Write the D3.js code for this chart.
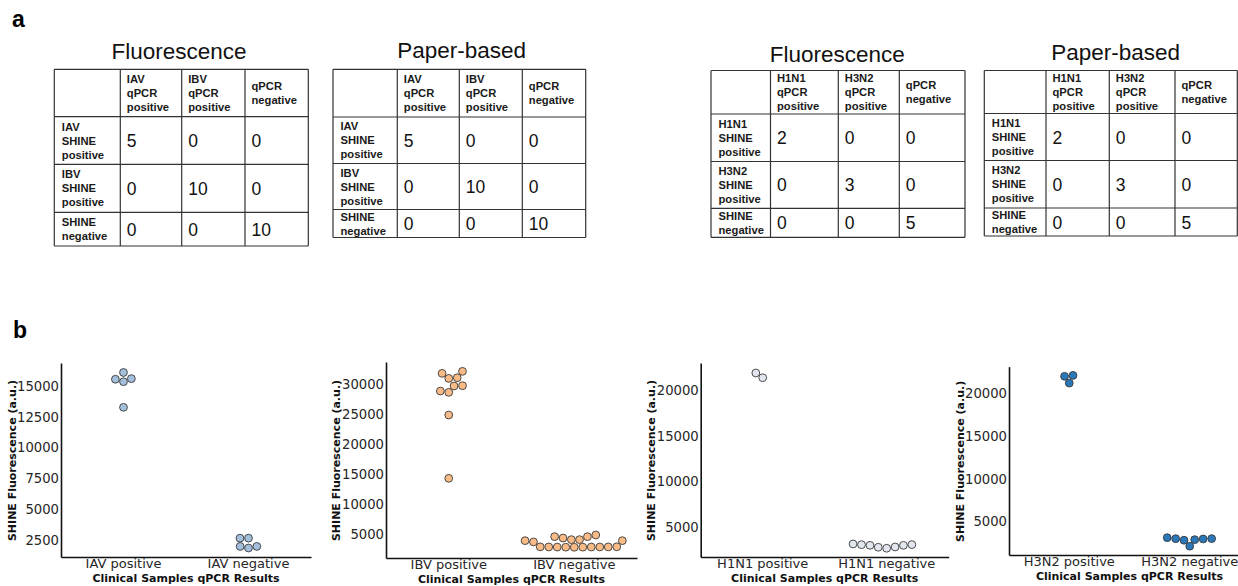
<!DOCTYPE html>
<html lang="en">
<head>
<meta charset="utf-8">
<title>SHINE clinical samples</title>
<style>
    body { margin: 0; background: #fff; }
    svg { display: block; }
</style>
</head>
<body>
<svg id="fig" width="1238" height="586"></svg>
<script src="https://d3js.org/d3.v7.min.js"></script>
<script>
// ---- table data (panel a) ----
const fluBColHeads = [["IAV", "qPCR", "positive"], ["IBV", "qPCR", "positive"], ["qPCR", "negative"]]
const fluBRowHeads = [["IAV", "SHINE", "positive"], ["IBV", "SHINE", "positive"], ["SHINE", "negative"]]
const fluBFluorCounts = [[5, 0, 0], [0, 10, 0], [0, 0, 10]]
const fluBPaperCounts = [[5, 0, 0], [0, 10, 0], [0, 0, 10]]

const subtypeColHeads = [["H1N1", "qPCR", "positive"], ["H3N2", "qPCR", "positive"], ["qPCR", "negative"]]
const subtypeRowHeads = [["H1N1", "SHINE", "positive"], ["H3N2", "SHINE", "positive"], ["SHINE", "negative"]]
const subtypeFluorCounts = [[2, 0, 0], [0, 3, 0], [0, 0, 5]]
const subtypePaperCounts = [[2, 0, 0], [0, 3, 0], [0, 0, 5]]

// ---- swarm data (panel b), SHINE fluorescence (a.u.) ----
const iavCats = ["IAV positive", "IAV negative"]
const iavPos = [13270, 15350, 15550, 15600, 16100]
const iavNeg = [1850, 1980, 1980, 2650, 2650]

const ibvCats = ["IBV positive", "IBV negative"]
const ibvPos = [14280, 24830, 28610, 28830, 29670, 29720, 30940, 31050, 31780, 32110]
const ibvNeg = [2790, 2800, 2810, 2820, 2830, 2830, 2840, 2850, 2860, 2870,
    3680, 3890, 3890, 4060, 4060, 4330, 4560, 4560, 4830]

const h1n1Cats = ["H1N1 positive", "H1N1 negative"]
const h1n1Pos = [21340, 21860]
const h1n1Neg = [2710, 2820, 2850, 3030, 3030, 3100, 3110, 3180]

const h3n2Cats = ["H3N2 positive", "H3N2 negative"]
const h3n2Pos = [21200, 21990, 22100]
const h3n2Neg = [2130, 2830, 2900, 2980, 3010, 3020, 3130]

const yTicksIAV = [2500, 5000, 7500, 10000, 12500, 15000]
const yTicksIBV = [5000, 10000, 15000, 20000, 25000, 30000]
const yTicksSub = [5000, 10000, 15000, 20000]

const svg = d3.select("#fig")
svg.append("rect").attr("width", 1238).attr("height", 586).attr("fill", "#fff")

// panel letters
svg.append("text").attr("x", 12).attr("y", 27).text("a")
    .attr("font-family", "Liberation Sans, Arial, sans-serif").attr("font-weight", "bold").attr("font-size", 23)
svg.append("text").attr("x", 13).attr("y", 338).text("b")
    .attr("font-family", "Liberation Sans, Arial, sans-serif").attr("font-weight", "bold").attr("font-size", 23)

// ---------- tables ----------
function drawTable(opt) {
    const g = svg.append("g")
    const xs = opt.xs, ys = opt.ys
    g.append("text")
        .attr("x", opt.titleX).attr("y", opt.titleY)
        .attr("text-anchor", "middle")
        .attr("font-family", "Liberation Sans, Arial, sans-serif")
        .attr("font-size", 22.5).attr("fill", "#111")
        .text(opt.title)

    // grid
    xs.forEach(x => g.append("line").attr("x1", x).attr("x2", x).attr("y1", ys[0]).attr("y2", ys[ys.length - 1]))
    ys.forEach(y => g.append("line").attr("x1", xs[0]).attr("x2", xs[xs.length - 1]).attr("y1", y).attr("y2", y))
    g.selectAll("line").attr("stroke", "#333").attr("stroke-width", 1.2)

    const lh = 14
    function block(lines, x, yTop, yBot) {
        const cy = (yTop + yBot) / 2
        const t = g.append("text")
            .attr("font-family", "Liberation Sans, Arial, sans-serif")
            .attr("font-weight", "bold").attr("font-size", 11.2).attr("fill", "#1a1a1a")
        lines.forEach((s, i) => {
            t.append("tspan").attr("x", x)
                .attr("y", cy + 4 + (i - (lines.length - 1) / 2) * lh)
                .text(s)
        })
    }
    opt.colHeads.forEach((c, j) => block(c, xs[j + 1] + 6.5, ys[0], ys[1]))
    opt.rowHeads.forEach((r, i) => block(r, xs[0] + 7.5, ys[i + 1], ys[i + 2]))
    opt.counts.forEach((row, i) => row.forEach((v, j) => {
        g.append("text")
            .attr("x", xs[j + 1] + 6.5)
            .attr("y", (ys[i + 1] + ys[i + 2]) / 2 + 6.5)
            .attr("font-family", "Liberation Sans, Arial, sans-serif")
            .attr("font-size", 17.5).attr("fill", "#111")
            .text(v)
    }))
}

drawTable({ title: "Fluorescence", titleX: 179, titleY: 59,
    xs: [54.3, 120.3, 181.7, 245, 308.3], ys: [69.3, 116.7, 164.3, 212.3, 246],
    colHeads: fluBColHeads, rowHeads: fluBRowHeads, counts: fluBFluorCounts })
drawTable({ title: "Paper-based", titleX: 461.7, titleY: 58,
    xs: [333, 397.3, 459.3, 522.3, 585.7], ys: [69.3, 117, 163.5, 209.5, 237.5],
    colHeads: fluBColHeads, rowHeads: fluBRowHeads, counts: fluBPaperCounts })
drawTable({ title: "Fluorescence", titleX: 837.3, titleY: 61.5,
    xs: [711, 770.5, 838.3, 899.3, 965], ys: [70.5, 114, 161.5, 208.3, 237.3],
    colHeads: subtypeColHeads, rowHeads: subtypeRowHeads, counts: subtypeFluorCounts })
drawTable({ title: "Paper-based", titleX: 1115.7, titleY: 60,
    xs: [984.3, 1046, 1109.3, 1175, 1237.3], ys: [70.5, 113.5, 160.5, 208, 236],
    colHeads: subtypeColHeads, rowHeads: subtypeRowHeads, counts: subtypePaperCounts })

// ---------- swarm plots ----------
// seaborn-style beeswarm on pixel y: points go in order of increasing value,
// each one at the candidate offset nearest the midline that doesn't overlap.
function beeswarm(pys, r) {
    const d = 2 * r
    const pts = pys.map(py => ({ u: -py })).sort((a, b) => a.u - b.u)
    const placed = []
    pts.forEach(p => {
        let nb = []
        for (let k = placed.length - 1; k >= 0; k--) {
            if (p.u - placed[k].u < d) nb.push(placed[k]); else break
        }
        nb = nb.reverse()
        const cand = [0]
        let leftFirst = true
        nb.forEach(q => {
            const dy = p.u - q.u
            const dx = Math.sqrt(Math.max(d * d - dy * dy, 0)) * 1.05
            if (leftFirst) cand.push(q.x - dx, q.x + dx); else cand.push(q.x + dx, q.x - dx)
            leftFirst = !leftFirst
        })
        const order = cand.map((c, i) => i).sort((a, b) => Math.abs(cand[a]) - Math.abs(cand[b]) || a - b)
        let x = 0
        for (const i of order) {
            const c = cand[i]
            if (nb.every(q => (q.x - c) ** 2 + (q.u - p.u) ** 2 >= d * d - 1e-6)) { x = c; break }
        }
        p.x = x
        placed.push(p)
    })
    return placed.map(p => ({ dx: p.x, py: -p.u }))
}

function drawSwarm(opt) {
    const g = svg.append("g")
    const x = d3.scaleBand().domain(opt.cats).range([opt.left, opt.left + opt.width])
    const y = d3.scaleLinear().domain(opt.domain).range([opt.bottom, opt.top])
    const font = "DejaVu Sans, sans-serif"

    // y axis (no visible ticks)
    const yAxis = g.append("g").attr("transform", `translate(${opt.left},0)`)
        .call(d3.axisLeft(y).tickValues(opt.ticks).tickSize(0).tickPadding(2).tickFormat(d3.format("d")))
    yAxis.select(".domain").attr("stroke", "#111").attr("stroke-width", 1.6)
    yAxis.selectAll("text").attr("font-family", font).attr("font-size", 13.2).attr("fill", "#262626")

    const xAxis = g.append("g").attr("transform", `translate(0,${opt.bottom})`)
        .call(d3.axisBottom(x).tickSize(0).tickPadding(2))
    xAxis.select(".domain").attr("stroke", "#111").attr("stroke-width", 1.6)
    xAxis.selectAll("text").attr("font-family", font).attr("font-size", 13).attr("fill", "#262626")

    g.append("text")
        .attr("x", opt.left + opt.width / 2).attr("y", opt.bottom + 24.5)
        .attr("text-anchor", "middle")
        .attr("font-family", font).attr("font-weight", "bold").attr("font-size", 11).attr("fill", "#111")
        .text("Clinical Samples qPCR Results")
    g.append("text")
        .attr("transform", `translate(${opt.labelX},${(opt.top + opt.bottom) / 2 + 0.5}) rotate(-90)`)
        .attr("text-anchor", "middle").attr("dominant-baseline", "central")
        .attr("font-family", font).attr("font-weight", "bold").attr("font-size", 11).attr("fill", "#111")
        .text("SHINE Fluorescence (a.u.)")

    opt.series.forEach((vals, i) => {
        const cx = x(opt.cats[i]) + x.bandwidth() / 2
        const sw = beeswarm(vals.map(v => y(v)), 4.05)
        g.append("g").selectAll("circle").data(sw).join("circle")
            .attr("cx", d => cx + d.dx)
            .attr("cy", d => d.py)
            .attr("r", 3.9)
            .attr("fill", opt.color)
            .attr("stroke", "#3a3a3a").attr("stroke-width", 0.9)
    })
}

drawSwarm({ cats: iavCats, series: [iavPos, iavNeg], domain: [1120, 16870], ticks: yTicksIAV,
    left: 61, width: 250, top: 363, bottom: 557, labelX: 12.5, color: "#a3bfdc" })
drawSwarm({ cats: ibvCats, series: [ibvPos, ibvNeg], domain: [1000, 33670], ticks: yTicksIBV,
    left: 386, width: 251, top: 362, bottom: 558, labelX: 336.5, color: "#f8bb87" })
drawSwarm({ cats: h1n1Cats, series: [h1n1Pos, h1n1Neg], domain: [1755, 22950], ticks: yTicksSub,
    left: 700.7, width: 248, top: 363, bottom: 557, labelX: 651.5, color: "#e2e7ef" })
drawSwarm({ cats: h3n2Cats, series: [h3n2Pos, h3n2Neg], domain: [1104, 23117], ticks: yTicksSub,
    left: 1009, width: 241, top: 366.7, bottom: 555, labelX: 960.5, color: "#2a78b8" })
</script>
</body>
</html>
